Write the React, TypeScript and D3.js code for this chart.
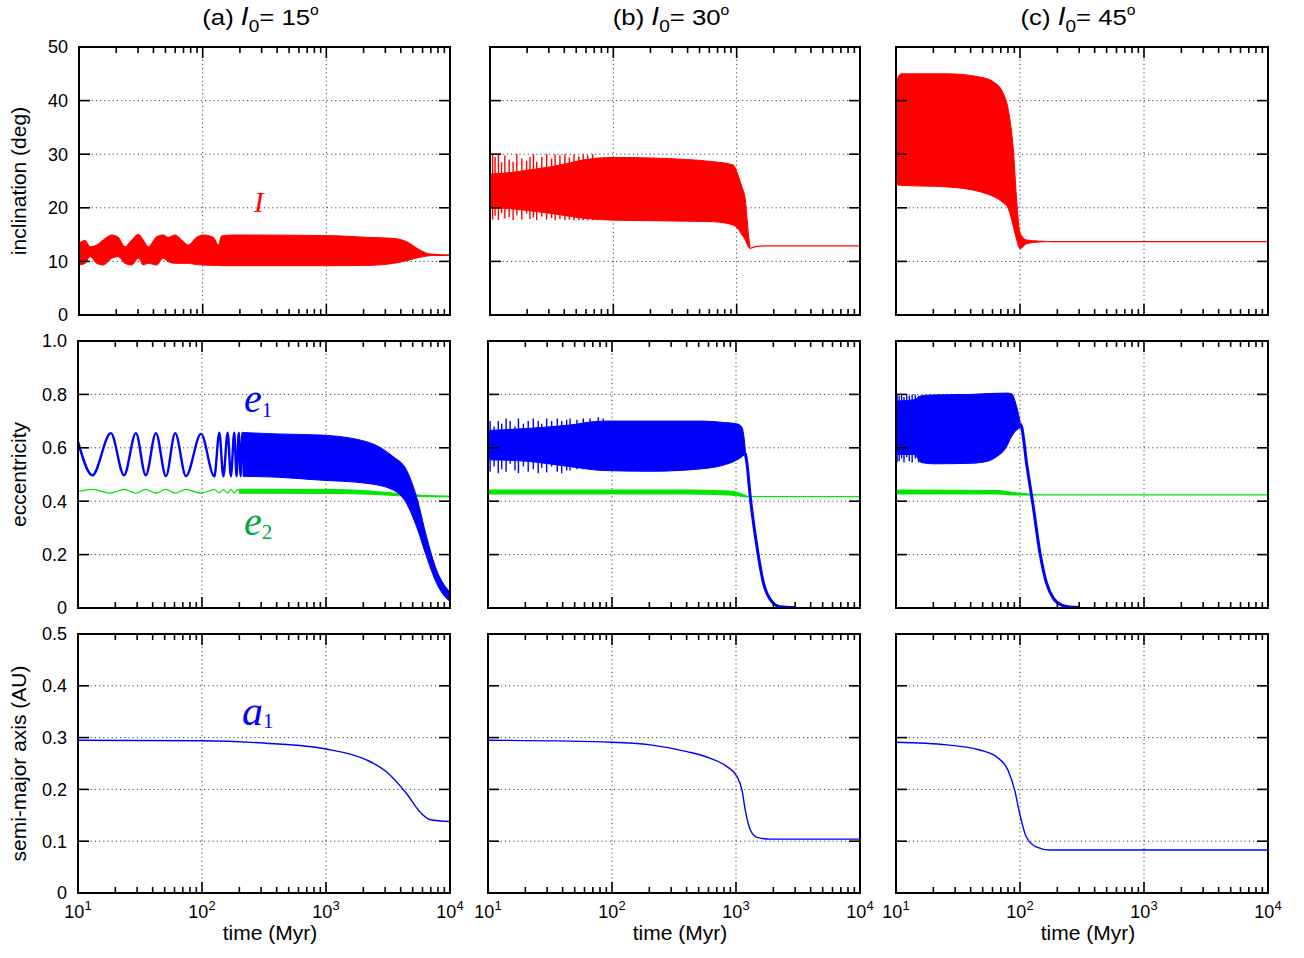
import React from 'react';
import * as d3 from 'd3';

// ---------------- DATA ----------------
const timeTicks = [10, 100, 1000, 10000];
const timeTickExp = ['1', '2', '3', '4'];
const incTicks = [0, 10, 20, 30, 40, 50];
const incTickLabels = ['0', '10', '20', '30', '40', '50'];
const eccTicks = [0, 0.2, 0.4, 0.6, 0.8, 1.0];
const eccTickLabels = ['0', '0.2', '0.4', '0.6', '0.8', '1.0'];
const smaTicks = [0, 0.1, 0.2, 0.3, 0.4, 0.5];
const smaTickLabels = ['0', '0.1', '0.2', '0.3', '0.4', '0.5'];
const panelLetters = ['(a) ', '(b) ', '(c) '];
const initialInc = ['15', '30', '45'];
const rowTitles = ['inclination (deg)', 'eccentricity', 'semi-major axis (AU)'];

// (a) I0 = 15 deg -- inclination envelope
const incA_t = [10, 11.2, 12.3, 13.9, 15.7, 18.4, 20.8, 23.5, 26.7, 30.2, 33.1, 36.3, 42.5, 48, 52.8, 59.8, 67.7, 76.6, 89.2, 101, 122, 134, 142, 177, 1140, 2130, 3500, 4460, 5700, 6920, 10000];
const incA_hi = [13.4, 13.9, 12.75, 13.06, 14.0, 14.93, 14.49, 12.75, 13.99, 15.05, 13.99, 12.75, 14.61, 14.93, 14.49, 14.93, 13.99, 13.06, 14.49, 14.93, 14.49, 13.06, 14.74, 14.93, 14.8, 14.49, 14.3, 13.68, 12.13, 11.38, 11.2];
const incA_lo = [9.33, 9.64, 10.88, 9.64, 9.33, 10.57, 10.88, 9.64, 9.33, 10.57, 9.33, 9.64, 9.33, 10.57, 9.95, 9.64, 9.64, 9.64, 9.4, 9.33, 9.25, 9.25, 9.2, 9.2, 9.2, 9.25, 9.64, 10.14, 10.76, 11.07, 11.13];

// (a) eccentricity e1: resolved oscillation (peaks / troughs), then band
const eccA1_t = [10, 13.06, 18.4, 23.5, 29.3, 35.2, 42.5, 51.2, 60.8, 74.3, 98.2, 125.7, 138, 148.6, 161, 171, 182, 190, 198, 205, 212, 219];
const eccA1_v = [0.623, 0.497, 0.655, 0.497, 0.655, 0.497, 0.655, 0.494, 0.655, 0.494, 0.652, 0.493, 0.657, 0.493, 0.657, 0.493, 0.657, 0.493, 0.657, 0.493, 0.657, 0.493];
const eccA1b_t = [215, 400, 887, 2118, 3475, 4457, 5370, 6470, 7800, 9680, 10000];
const eccA1b_hi = [0.657, 0.652, 0.648, 0.623, 0.567, 0.517, 0.417, 0.267, 0.142, 0.067, 0.06];
const eccA1b_lo = [0.493, 0.49, 0.479, 0.467, 0.442, 0.392, 0.305, 0.192, 0.092, 0.03, 0.025];
// (a) e2
const eccA2_t = [10, 13.06, 18.4, 23.5, 29.3, 35.2, 42.5, 51.2, 60.8, 74.3, 98.2, 125.7, 138, 148.6, 161, 171, 182, 194, 206];
const eccA2_v = [0.436, 0.444, 0.43, 0.444, 0.43, 0.444, 0.43, 0.444, 0.43, 0.444, 0.43, 0.443, 0.431, 0.443, 0.431, 0.443, 0.431, 0.443, 0.431];
const eccA2b_t = [200, 1000, 2000, 4000, 6000, 10000];
const eccA2b_hi = [0.445, 0.444, 0.44, 0.428, 0.422, 0.419];
const eccA2b_lo = [0.43, 0.429, 0.427, 0.42, 0.417, 0.416];
// (a) a1
const smaA_t = [10, 100, 329, 1000, 2118, 3069, 4457, 5710, 6880, 10000];
const smaA_v = [0.295, 0.294, 0.289, 0.278, 0.257, 0.234, 0.192, 0.157, 0.142, 0.138];

// (b) I0 = 30 deg
const incB_t = [10, 15, 20, 30, 45, 60, 100, 200, 400, 646, 935, 1038, 1100, 1175, 1245, 1285];
const incB_hi = [26.3, 26.6, 27.0, 27.6, 28.4, 29.0, 29.4, 29.3, 29.0, 28.6, 28.0, 25.8, 24.0, 21.5, 15.2, 12.6];
const incB_lo = [20.0, 19.8, 19.5, 19.0, 18.4, 18.0, 17.7, 17.6, 17.5, 17.4, 16.8, 15.9, 15.0, 14.0, 12.7, 12.4];
const incBspk_t = [10.5, 11.0, 11.7, 12.4, 13.2, 14.3, 15.4, 16.5, 18.1, 19.8, 21.1, 22.5, 23.9, 26.3, 28.8, 31.6, 33.7, 36.9, 40.5, 44, 48, 52.5, 57, 62, 68];
const incBspk_hi = [30, 29.5, 30, 28.5, 29.8, 29, 28.6, 30, 29.2, 28.8, 29.5, 30, 28.6, 29.5, 30, 29.2, 30, 29.8, 30, 29.4, 30, 29.6, 30, 29.8, 30];
const incBspk_lo = [17.8, 18.5, 17.7, 19, 18, 18.3, 17.7, 18.6, 17.8, 18.9, 17.9, 18.2, 17.7, 18.4, 17.8, 18.1, 17.7, 17.9, 17.7, 17.8, 17.7, 17.7, 17.7, 17.7, 17.7];
const incBtail_t = [1285, 1450, 1740, 10000];
const incBtail_v = [12.4, 12.8, 12.9, 12.9];

const eccB1_t = [10, 20, 45, 85, 200, 545, 791, 1014, 1111, 1160, 1190];
const eccB1_hi = [0.665, 0.672, 0.685, 0.7, 0.7, 0.7, 0.695, 0.69, 0.679, 0.64, 0.59];
const eccB1_lo = [0.555, 0.55, 0.53, 0.515, 0.512, 0.522, 0.535, 0.554, 0.566, 0.573, 0.575];
const eccB1spk_t = [10.4, 11.2, 12.1, 12.9, 14.0, 15.1, 16.5, 17.6, 19.3, 21.1, 23.2, 25.4, 27.1, 29.7, 32.6, 36.2, 39.3, 43.1, 45.9, 52.1, 58.7, 66.5, 77.6, 85];
const eccB1spk_hi = [0.7, 0.68, 0.7, 0.69, 0.71, 0.7, 0.68, 0.71, 0.69, 0.7, 0.71, 0.7, 0.69, 0.71, 0.7, 0.71, 0.7, 0.705, 0.71, 0.705, 0.71, 0.71, 0.715, 0.71];
const eccB1spk_lo = [0.51, 0.53, 0.505, 0.52, 0.51, 0.54, 0.515, 0.505, 0.53, 0.51, 0.52, 0.505, 0.525, 0.508, 0.53, 0.51, 0.505, 0.515, 0.515, 0.52, 0.52, 0.52, 0.52, 0.52];
const eccB1tail_t = [1190, 1225, 1303, 1475, 1668, 1948, 2274, 3006];
const eccB1tail_v = [0.58, 0.542, 0.417, 0.23, 0.092, 0.024, 0.005, 0.002];
const eccB2_t = [10, 400, 890, 1225];
const eccB2_hi = [0.442, 0.442, 0.438, 0.42];
const eccB2_lo = [0.427, 0.427, 0.423, 0.415];
const eccB2tail_t = [1225, 10000];
const eccB2tail_v = [0.417, 0.417];
const smaB_t = [10, 100, 204, 402, 621, 846, 1018, 1117, 1188, 1303, 1475, 1890, 10000];
const smaB_v = [0.295, 0.291, 0.286, 0.273, 0.26, 0.244, 0.225, 0.199, 0.16, 0.122, 0.1075, 0.104, 0.104];

// (c) I0 = 45 deg
const incC_t = [10, 11, 25.6, 47.5, 61, 73.5, 80.6, 88.4, 94, 100, 113, 140, 175];
const incC_hi = [43.5, 45, 45, 44.4, 43.5, 41.3, 38.2, 30.8, 21.5, 15.3, 14.0, 13.8, 13.7];
const incC_lo = [24.3, 24.2, 23.9, 23.0, 22.1, 20.9, 19.8, 16.5, 14.0, 12.4, 13.3, 13.6, 13.7];
const incCtail_t = [175, 10000];
const incCtail_v = [13.7, 13.7];

const eccC1_t = [10, 14, 16, 20, 40, 55, 65, 78, 85, 94, 100];
const eccC1_hi = [0.775, 0.78, 0.795, 0.798, 0.8, 0.803, 0.804, 0.805, 0.803, 0.754, 0.7];
const eccC1_lo = [0.575, 0.575, 0.545, 0.54, 0.542, 0.55, 0.567, 0.604, 0.64, 0.667, 0.675];
const eccC1spk_t = [10.2, 10.6, 11.1, 11.6, 12.2, 12.8, 13.5, 14.3, 15.2];
const eccC1spk_hi = [0.8, 0.795, 0.8, 0.79, 0.8, 0.795, 0.8, 0.8, 0.795];
const eccC1spk_lo = [0.545, 0.55, 0.56, 0.545, 0.565, 0.55, 0.545, 0.56, 0.545];
const eccC1tail_t = [100, 103, 113, 128, 145, 164, 186, 217, 253, 300];
const eccC1tail_v = [0.69, 0.679, 0.542, 0.379, 0.205, 0.092, 0.036, 0.011, 0.004, 0.002];
const eccC2_t = [10, 65, 94, 135];
const eccC2_hi = [0.442, 0.44, 0.431, 0.425];
const eccC2_lo = [0.427, 0.427, 0.423, 0.423];
const eccC2tail_t = [135, 10000];
const eccC2tail_v = [0.424, 0.424];
const smaC_t = [10, 25.7, 47.3, 64.5, 80, 90.5, 99.3, 112, 135, 173, 10000];
const smaC_v = [0.291, 0.286, 0.276, 0.263, 0.237, 0.199, 0.154, 0.109, 0.089, 0.083, 0.083];

// ---------------- STYLE / LAYOUT ----------------
const SANS = "'Liberation Sans', Arial, Helvetica, sans-serif";
const SERIF = "'Liberation Serif', 'Times New Roman', serif";
const RED = '#ff0000';
const BLUE = '#0000ff';
const GREEN = '#00e600';
const GREEN_TXT = '#00a53c';

const rowY: [number, number][] = [[47, 315], [341, 608], [634, 893]];
const colX: [number, number][][] = [
  [[79, 450], [490, 860], [896, 1268]],
  [[78, 450], [488, 860], [896, 1268]],
  [[78, 450], [488, 860], [896, 1268]],
];

type Layer =
  | { kind: 'band'; color: string; t: number[]; hi: number[]; lo: number[] }
  | { kind: 'line'; color: string; w: number; t: number[]; v: number[] }
  | { kind: 'spikes'; color: string; t: number[]; hi: number[]; lo: number[] };

const layers: Layer[][][] = [
  [
    [{ kind: 'band', color: RED, t: incA_t, hi: incA_hi, lo: incA_lo }],
    [
      { kind: 'band', color: RED, t: incB_t, hi: incB_hi, lo: incB_lo },
      { kind: 'spikes', color: RED, t: incBspk_t, hi: incBspk_hi, lo: incBspk_lo },
      { kind: 'line', color: RED, w: 1.2, t: incBtail_t, v: incBtail_v },
    ],
    [
      { kind: 'band', color: RED, t: incC_t, hi: incC_hi, lo: incC_lo },
      { kind: 'line', color: RED, w: 1.2, t: incCtail_t, v: incCtail_v },
    ],
  ],
  [
    [
      { kind: 'line', color: GREEN, w: 1.2, t: eccA2_t, v: eccA2_v },
      { kind: 'band', color: GREEN, t: eccA2b_t, hi: eccA2b_hi, lo: eccA2b_lo },
      { kind: 'line', color: BLUE, w: 2.4, t: eccA1_t, v: eccA1_v },
      { kind: 'band', color: BLUE, t: eccA1b_t, hi: eccA1b_hi, lo: eccA1b_lo },
    ],
    [
      { kind: 'band', color: GREEN, t: eccB2_t, hi: eccB2_hi, lo: eccB2_lo },
      { kind: 'line', color: GREEN, w: 1.2, t: eccB2tail_t, v: eccB2tail_v },
      { kind: 'band', color: BLUE, t: eccB1_t, hi: eccB1_hi, lo: eccB1_lo },
      { kind: 'spikes', color: BLUE, t: eccB1spk_t, hi: eccB1spk_hi, lo: eccB1spk_lo },
      { kind: 'line', color: BLUE, w: 3, t: eccB1tail_t, v: eccB1tail_v },
    ],
    [
      { kind: 'band', color: GREEN, t: eccC2_t, hi: eccC2_hi, lo: eccC2_lo },
      { kind: 'line', color: GREEN, w: 1.2, t: eccC2tail_t, v: eccC2tail_v },
      { kind: 'band', color: BLUE, t: eccC1_t, hi: eccC1_hi, lo: eccC1_lo },
      { kind: 'spikes', color: BLUE, t: eccC1spk_t, hi: eccC1spk_hi, lo: eccC1spk_lo },
      { kind: 'line', color: BLUE, w: 3, t: eccC1tail_t, v: eccC1tail_v },
    ],
  ],
  [
    [{ kind: 'line', color: BLUE, w: 1.4, t: smaA_t, v: smaA_v }],
    [{ kind: 'line', color: BLUE, w: 1.4, t: smaB_t, v: smaB_v }],
    [{ kind: 'line', color: BLUE, w: 1.4, t: smaC_t, v: smaC_v }],
  ],
];

const rowTicks = [incTicks, eccTicks, smaTicks];
const rowTickLabels = [incTickLabels, eccTickLabels, smaTickLabels];

function minorTicks(): number[] {
  const out: number[] = [];
  for (let d = 10; d < 10000; d *= 10) for (let k = 2; k <= 9; k++) out.push(d * k);
  return out;
}

function Panel({ r, c }: { r: number; c: number }) {
  const [x0, x1] = colX[r][c];
  const [yT, yB] = rowY[r];
  const ticks = rowTicks[r];
  const x = d3.scaleLog().domain([10, 10000]).range([x0, x1]);
  const y = d3.scaleLinear().domain([ticks[0], ticks[ticks.length - 1]]).range([yB, yT]);
  const clipId = `clip-${r}-${c}`;
  const area = d3
    .area<{ t: number; hi: number; lo: number }>()
    .x((d) => x(d.t))
    .y0((d) => y(d.lo))
    .y1((d) => y(d.hi))
    .curve(d3.curveMonotoneX);
  const line = d3
    .line<{ t: number; v: number }>()
    .x((d) => x(d.t))
    .y((d) => y(d.v))
    .curve(d3.curveMonotoneX);
  const MAJ = 11;
  const MIN = 6;
  const cx = (x0 + x1) / 2;
  return (
    <g>
      <defs>
        <clipPath id={clipId}>
          <rect x={x0} y={yT} width={x1 - x0} height={yB - yT} />
        </clipPath>
      </defs>
      {/* grid */}
      <g stroke="#444" strokeWidth={1} strokeDasharray="1.2 3" fill="none">
        {[100, 1000].map((t) => (
          <line key={'gx' + t} x1={x(t)} x2={x(t)} y1={yT} y2={yB} />
        ))}
        {ticks.slice(1, -1).map((v) => (
          <line key={'gy' + v} x1={x0} x2={x1} y1={y(v)} y2={y(v)} />
        ))}
      </g>
      {/* data */}
      <g clipPath={`url(#${clipId})`}>
        {layers[r][c].map((L, i) => {
          if (L.kind === 'band') {
            const data = L.t.map((t, j) => ({ t, hi: L.hi[j], lo: L.lo[j] }));
            return <path key={i} d={area(data) || ''} fill={L.color} stroke={L.color} strokeWidth={1} />;
          }
          if (L.kind === 'line') {
            const data = L.t.map((t, j) => ({ t, v: L.v[j] }));
            return <path key={i} d={line(data) || ''} fill="none" stroke={L.color} strokeWidth={L.w} />;
          }
          return (
            <g key={i} stroke={L.color} strokeWidth={1.4}>
              {L.t.map((t, j) => (
                <line key={j} x1={x(t)} x2={x(t)} y1={y(L.lo[j])} y2={y(L.hi[j])} />
              ))}
            </g>
          );
        })}
      </g>
      {/* ticks */}
      <g stroke="#000" strokeWidth={1.6}>
        {ticks.map((v) => (
          <g key={'ty' + v}>
            <line x1={x0} x2={x0 + MAJ} y1={y(v)} y2={y(v)} />
            <line x1={x1 - MAJ} x2={x1} y1={y(v)} y2={y(v)} />
          </g>
        ))}
        {timeTicks.map((t) => (
          <g key={'tx' + t}>
            <line x1={x(t)} x2={x(t)} y1={yB} y2={yB - MAJ} />
            <line x1={x(t)} x2={x(t)} y1={yT} y2={yT + MAJ} />
          </g>
        ))}
        {minorTicks().map((t) => (
          <g key={'mx' + t}>
            <line x1={x(t)} x2={x(t)} y1={yB} y2={yB - MIN} />
            <line x1={x(t)} x2={x(t)} y1={yT} y2={yT + MIN} />
          </g>
        ))}
      </g>
      <rect x={x0} y={yT} width={x1 - x0} height={yB - yT} fill="none" stroke="#000" strokeWidth={2} />
      {/* y tick labels */}
      {c === 0 &&
        ticks.map((v, j) => (
          <text key={'ly' + v} x={x0 - 11} y={y(v)} dy="0.36em" textAnchor="end" fontFamily={SANS} fontSize={18}>
            {rowTickLabels[r][j]}
          </text>
        ))}
      {c === 0 && (
        <text
          transform={`translate(26,${(yT + yB) / 2}) rotate(-90)`}
          textAnchor="middle"
          fontFamily={SANS}
          fontSize={21}
        >
          {rowTitles[r]}
        </text>
      )}
      {/* x tick labels */}
      {r === 2 &&
        timeTicks.map((t, j) => (
          <text key={'lx' + t} x={x(t)} y={918} textAnchor="middle" fontFamily={SANS} fontSize={18}>
            10
            <tspan fontSize={13} dy={-8}>
              {timeTickExp[j]}
            </tspan>
          </text>
        ))}
      {r === 2 && (
        <text x={cx + 6} y={940} textAnchor="middle" fontFamily={SANS} fontSize={21}>
          time (Myr)
        </text>
      )}
      {r === 0 && (
        <text
          transform={`translate(${cx - 4},25) scale(1.12,1)`}
          textAnchor="middle"
          fontFamily={SANS}
          fontSize={23}
        >
          {panelLetters[c]}
          <tspan fontStyle="italic" fontSize={25}>I</tspan>
          <tspan fontSize={17} dy={7}>0</tspan>
          <tspan dy={-7}>{'= ' + initialInc[c]}</tspan>
          <tspan fontSize={14} dy={-10}>o</tspan>
        </text>
      )}
    </g>
  );
}

export default function App() {
  const cells: JSX.Element[] = [];
  for (let r = 0; r < 3; r++) for (let c = 0; c < 3; c++) cells.push(<Panel key={`${r}-${c}`} r={r} c={c} />);
  return (
    <svg
      width={1304}
      height={958}
      style={{ position: 'absolute', left: 0, top: 0, background: '#fff' }}
      xmlns="http://www.w3.org/2000/svg"
    >
      {cells}
      {/* curve labels */}
      <text x={254} y={212} fontFamily={SERIF} fontStyle="italic" fontSize={29} fill={RED}>
        I
      </text>
      <text x={244} y={412} fontFamily={SERIF} fill={BLUE}>
        <tspan fontStyle="italic" fontSize={40}>e</tspan>
        <tspan fontSize={21} dy={5}>1</tspan>
      </text>
      <text x={244} y={535} fontFamily={SERIF} fill={GREEN_TXT}>
        <tspan fontStyle="italic" fontSize={40}>e</tspan>
        <tspan fontSize={21} dy={4}>2</tspan>
      </text>
      <text x={242} y={725} fontFamily={SERIF} fill={BLUE}>
        <tspan fontStyle="italic" fontSize={42}>a</tspan>
        <tspan fontSize={21} dy={3}>1</tspan>
      </text>
    </svg>
  );
}
